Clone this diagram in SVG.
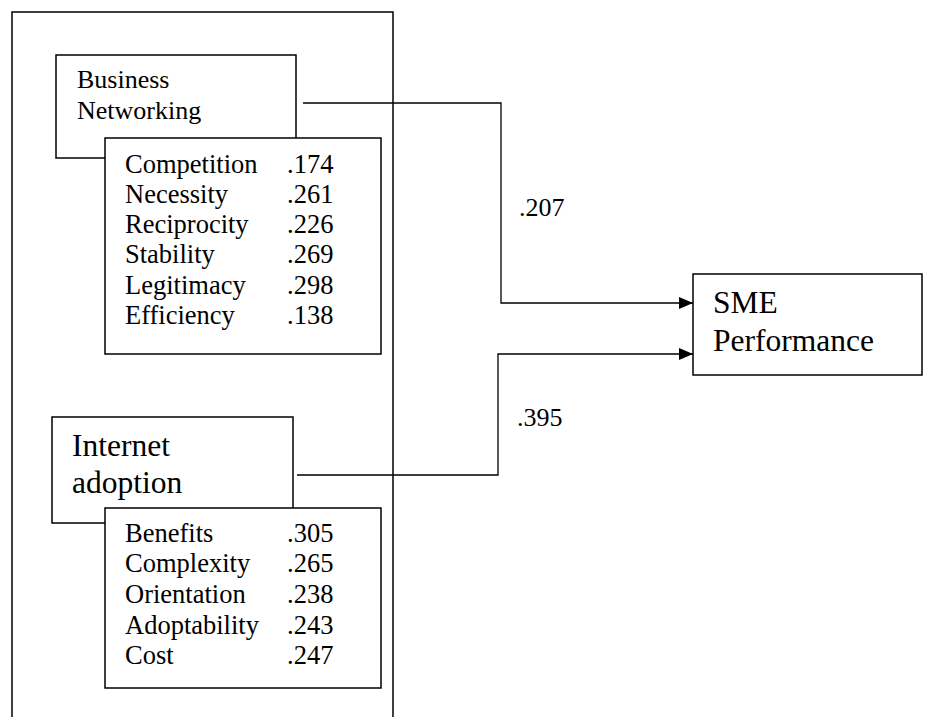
<svg xmlns="http://www.w3.org/2000/svg" width="951" height="717" viewBox="0 0 951 717">
<defs>
<style>
.box{fill:#fff;stroke:#000;stroke-width:1.5}
.t{font-family:"Liberation Serif","Times New Roman",serif;fill:#000}
.conn{fill:none;stroke:#000;stroke-width:1.3}
</style>
<marker id="arr" viewBox="0 0 14 12" refX="14" refY="6" markerWidth="14" markerHeight="12" markerUnits="userSpaceOnUse" orient="auto">
<path d="M0,0 L14,6 L0,12 Z" fill="#000"/>
</marker>
</defs>
<rect width="951" height="717" fill="#fff"/>
<g id="frame">
<path d="M12,717 V12 H393 V717" fill="none" stroke="#000" stroke-width="1.5"/>
</g>
<g id="business-networking">
<rect class="box" x="56" y="55" width="240" height="103"/>
<text class="t" x="77" y="88" font-size="26">Business</text>
<text class="t" x="77" y="119" font-size="26">Networking</text>
</g>
<g id="bn-items">
<rect class="box" x="105" y="138" width="276" height="216"/>
<g class="t" font-size="26.5">
<text x="125" y="173">Competition</text><text x="287" y="173">.174</text>
<text x="125" y="203">Necessity</text><text x="287" y="203">.261</text>
<text x="125" y="233">Reciprocity</text><text x="287" y="233">.226</text>
<text x="125" y="263">Stability</text><text x="287" y="263">.269</text>
<text x="125" y="294">Legitimacy</text><text x="287" y="294">.298</text>
<text x="125" y="324">Efficiency</text><text x="287" y="324">.138</text>
</g>
</g>
<g id="internet-adoption">
<rect class="box" x="52" y="417" width="241" height="106"/>
<text class="t" x="72" y="456" font-size="31.5">Internet</text>
<text class="t" x="72" y="493" font-size="31.5">adoption</text>
</g>
<g id="ia-items">
<rect class="box" x="105" y="508" width="276" height="180"/>
<g class="t" font-size="26.5">
<text x="125" y="542">Benefits</text><text x="287" y="542">.305</text>
<text x="125" y="572">Complexity</text><text x="287" y="572">.265</text>
<text x="125" y="603">Orientation</text><text x="287" y="603">.238</text>
<text x="125" y="634">Adoptability</text><text x="287" y="634">.243</text>
<text x="125" y="664">Cost</text><text x="287" y="664">.247</text>
</g>
</g>
<g id="sme-performance">
<rect class="box" x="693" y="274" width="229" height="101"/>
<text class="t" x="713" y="313" font-size="31.5">SME</text>
<text class="t" x="713" y="351" font-size="31.5">Performance</text>
</g>
<g id="connectors">
<path class="conn" d="M303,103 H501 V303 H693" marker-end="url(#arr)"/>
<path class="conn" d="M297,475 H498 V354 H693" marker-end="url(#arr)"/>
<text class="t" x="519" y="216" font-size="26">.207</text>
<text class="t" x="517" y="426" font-size="26">.395</text>
</g>
</svg>
